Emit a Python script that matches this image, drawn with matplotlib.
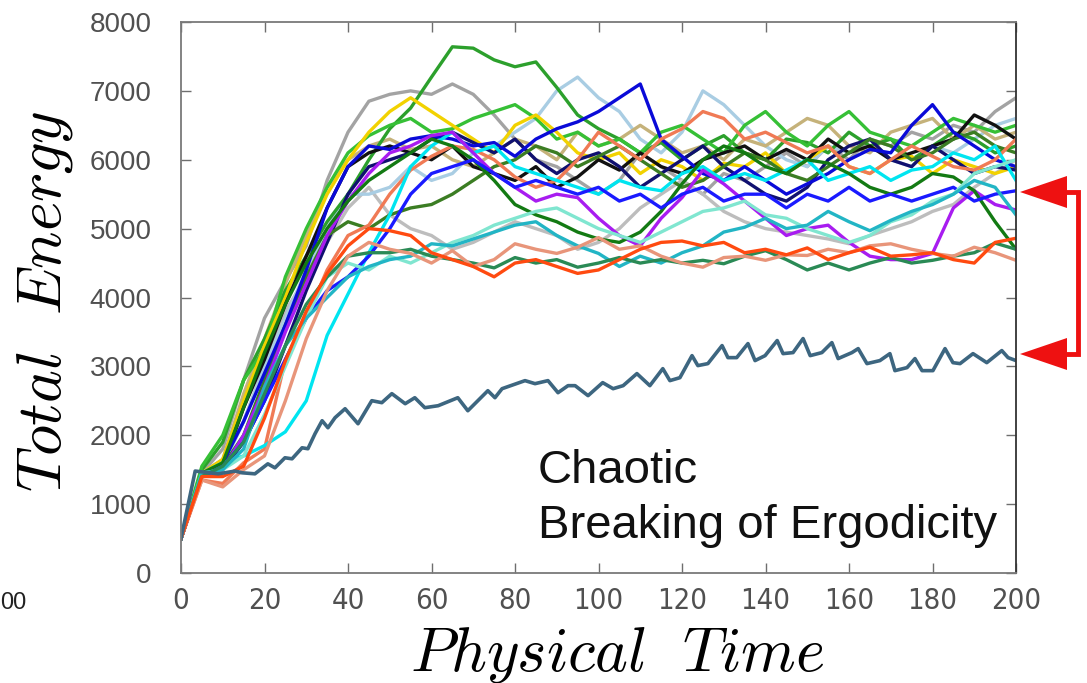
import matplotlib
matplotlib.use('Agg')
import matplotlib.pyplot as plt
from matplotlib.patches import Polygon
from matplotlib.lines import Line2D
from matplotlib import font_manager

plt.rcParams['mathtext.fontset'] = 'cm'

# ---------------- data ----------------
time5 = [0, 5, 10, 15, 20, 25, 30, 35, 40, 45, 50, 55, 60, 65, 70, 75, 80, 85, 90, 95, 100,
         105, 110, 115, 120, 125, 130, 135, 140, 145, 150, 155, 160, 165, 170, 175, 180, 185,
         190, 195, 200]

e_gray = [500, 1450, 1800, 2800, 3700, 4250, 4750, 5700, 6400, 6850, 6950, 7000, 6950, 7100, 6950,
          6650, 6300, 6000, 5900, 5700, 5500, 5700, 6100, 5900, 5700, 5500, 5800, 5700, 5900, 6100,
          5900, 6200, 6000, 6300, 6200, 6400, 6300, 6500, 6400, 6700, 6900]
e_green_peak = [500, 1500, 1900, 2800, 3400, 4100, 4600, 5100, 5500, 6000, 6450, 6750, 7200, 7640,
                7620, 7450, 7350, 7420, 7050, 6650, 6450, 6300, 6100, 6250, 6000, 6200, 6350, 6100,
                6000, 6300, 6250, 6100, 6400, 6200, 6300, 6000, 6200, 6400, 6300, 6100, 6200]
e_blue = [500, 1400, 1600, 2200, 2900, 3600, 4400, 5300, 5900, 6200, 6150, 6300, 6350, 6300, 6200,
          6250, 6050, 6300, 6450, 6550, 6700, 6900, 7100, 6300, 6050, 5800, 5700, 5900, 5700, 5500,
          5650, 5800, 6000, 6150, 6100, 6500, 6800, 6400, 6200, 6000, 5900]
e_blue_low = [500, 1400, 1550, 1900, 2500, 3100, 3700, 4100, 4300, 4600, 5000, 5500, 5800, 5900,
              6000, 5800, 5600, 5700, 5600, 5500, 5600, 5400, 5500, 5300, 5500, 5600, 5400, 5500,
              5500, 5300, 5500, 5400, 5600, 5400, 5500, 5400, 5500, 5600, 5400, 5500, 5550]
e_navy = [500, 1400, 1500, 1900, 2500, 3300, 4100, 4800, 5500, 5900, 6000, 6100, 6300, 6400, 6250,
          6100, 6300, 6000, 5800, 6000, 6100, 5900, 5600, 5800, 6000, 6200, 5900, 5700, 5500, 5400,
          5600, 6000, 6200, 6300, 6000, 5900, 6200, 6000, 5800, 5900, 5850]
e_black = [500, 1400, 1550, 2400, 3100, 3900, 4600, 5300, 5900, 6100, 6200, 6100, 6000, 6200, 5900,
           5800, 5700, 5900, 5600, 5750, 6000, 5850, 6100, 5900, 5800, 6000, 6100, 6200, 6000, 6150,
           6000, 6300, 6100, 6200, 6000, 6100, 6200, 6300, 6650, 6500, 6300]
e_gold = [500, 1450, 1650, 2500, 3300, 4000, 4800, 5500, 6000, 6400, 6700, 6900, 6700, 6500, 6300,
          6100, 6500, 6650, 6400, 6100, 6000, 6100, 5800, 6000, 5900, 5700, 5950, 5900, 6100, 5800,
          6000, 6200, 5900, 5800, 6000, 6050, 5800, 6000, 5900, 5800, 5900]
e_cyan = [500, 1450, 1600, 1700, 1850, 2050, 2500, 3450, 4050, 4650, 5200, 5900, 6200, 6400, 6100,
          6200, 5900, 5800, 5700, 5600, 5500, 5700, 5600, 5550, 5800, 5900, 5700, 5800, 5700, 5850,
          6000, 5700, 5800, 5900, 5700, 5850, 5900, 6100, 6000, 6200, 5700]
e_orangered = [500, 1400, 1400, 1550, 2250, 3080, 3800, 4350, 4750, 5000, 4970, 4900, 4650, 4550,
               4450, 4300, 4500, 4550, 4450, 4350, 4400, 4550, 4700, 4800, 4820, 4750, 4800, 4650,
               4700, 4620, 4720, 4550, 4650, 4730, 4600, 4620, 4650, 4550, 4500, 4800, 4860]
e_salmon = [500, 1350, 1250, 1500, 1700, 2500, 3400, 4100, 4600, 4800, 4700, 4640, 4500, 4680, 4450,
            4550, 4780, 4700, 4640, 4730, 4870, 4700, 4750, 4600, 4500, 4440, 4580, 4600, 4540,
            4620, 4610, 4700, 4650, 4750, 4780, 4700, 4640, 4600, 4730, 4650, 4540]
e_coral = [500, 1350, 1300, 1600, 1800, 3100, 3700, 4400, 4900, 5050, 5500, 5850, 6050, 6200, 6150,
           6000, 5750, 5600, 5700, 6000, 6400, 6200, 6000, 6300, 6450, 6700, 6600, 6300, 6400, 6250,
           6100, 6200, 5900, 5800, 6000, 6200, 6050, 5900, 5850, 6000, 6300]
e_turquoise = [500, 1450, 1500, 1800, 2700, 3300, 3700, 4000, 4300, 4450, 4550, 4600, 4780, 4750,
               4850, 4950, 5050, 5100, 4900, 4750, 4640, 4450, 4600, 4500, 4650, 4750, 4950, 5020,
               5150, 5000, 5050, 5250, 5100, 4970, 5120, 5250, 5350, 5500, 5700, 5600, 5200]
e_aquamarine = [500, 1450, 1500, 1700, 2300, 3000, 3700, 4300, 4500, 4400, 4600, 4500, 4650, 4800,
                4900, 5050, 5150, 5250, 5300, 5150, 5000, 4900, 4800, 4950, 5100, 5250, 5300, 5400,
                5200, 5150, 5000, 4900, 4800, 4900, 5100, 5200, 5400, 5500, 5800, 5900, 6000]
e_purple = [500, 1400, 1500, 2000, 2700, 3500, 4200, 4900, 5400, 5800, 6100, 6200, 6350, 6400, 6100,
            5800, 5600, 5400, 5500, 5450, 5150, 4900, 4750, 5150, 5450, 5850, 5650, 5400, 5150,
            4900, 5000, 5050, 4800, 4600, 4550, 4550, 4640, 5300, 5550, 5350, 5270]
e_darkgreen = [500, 1450, 1600, 2400, 3200, 3900, 4500, 5000, 5400, 5700, 5900, 6100, 6300, 6200,
               6000, 5700, 5350, 5200, 5100, 4950, 4850, 4800, 4950, 5250, 5650, 6000, 6200, 6100,
               5900, 5800, 6000, 5950, 5800, 5600, 5500, 5600, 5800, 5750, 5550, 5100, 4700]
e_olive = [500, 1450, 1550, 2000, 2800, 3600, 4300, 4900, 5100, 5000, 5200, 5300, 5350, 5500, 5700,
           5900, 6000, 6200, 6100, 5900, 6050, 6200, 6000, 5800, 5600, 5700, 5900, 6100, 6000, 5800,
           5700, 5900, 6100, 6300, 6200, 6000, 6100, 6300, 6400, 6200, 6100]
e_seagreen = [500, 1400, 1550, 1900, 2600, 3300, 3900, 4300, 4600, 4650, 4650, 4700, 4600, 4550,
              4500, 4430, 4580, 4500, 4550, 4440, 4500, 4580, 4500, 4550, 4500, 4540, 4490, 4600,
              4680, 4550, 4400, 4500, 4400, 4500, 4580, 4500, 4540, 4600, 4650, 4790, 4700]
e_lightblue = [500, 1400, 1550, 2200, 3000, 3700, 4400, 5000, 5500, 5500, 5600, 5900, 5700, 5800,
               6100, 6200, 6400, 6600, 7000, 7200, 6900, 6700, 6300, 6100, 6400, 7000, 6800, 6500,
               6200, 6000, 5900, 6200, 6100, 6300, 6000, 5900, 6200, 6100, 6300, 6500, 6600]
e_tan = [500, 1450, 1650, 2600, 3400, 4200, 4900, 5600, 6000, 6200, 6300, 6150, 6200, 6000, 5900,
         6100, 6300, 6200, 6000, 6400, 6200, 6300, 6500, 6300, 6100, 6200, 6000, 6300, 6200, 6400,
         6600, 6500, 6200, 6100, 6400, 6500, 6600, 6300, 6500, 6300, 6400]
e_lime = [500, 1550, 2000, 2800, 3250, 4300, 5000, 5600, 6100, 6350, 6500, 6600, 6400, 6450, 6600,
          6700, 6800, 6600, 6300, 6400, 6200, 6300, 6100, 6400, 6500, 6300, 6100, 6500, 6700, 6400,
          6200, 6500, 6700, 6400, 6300, 6200, 6400, 6600, 6500, 6400, 6500]
e_lightgray = [500, 1450, 1600, 2200, 3000, 3800, 4300, 4800, 5300, 5600, 5200, 5000, 4900, 4700,
               4800, 4950, 5100, 5000, 4900, 4700, 4800, 5000, 5300, 5500, 5700, 5500, 5250, 5100,
               5000, 4950, 4900, 4850, 4780, 4900, 5000, 5100, 5250, 5350, 5600, 5800, 6000]

# isolated low series (non-ergodic run), finer sampling
slate_t = [0, 3.4, 8.9, 13, 14.6, 17.7, 20.8, 22.5, 24.9, 26.6, 29, 30.4, 32.1, 33.8, 35.2, 36.9,
           39.3, 42.4, 45.7, 48.1, 50.5, 53.7, 56, 58.4, 61.6, 66.3, 68.7, 73.5, 75.2, 76.9, 82.4,
           84.8, 87.9, 90.3, 92.7, 94.4, 97.5, 101, 103.5, 105.9, 109.2, 112.3, 115.4, 117.1, 119.5,
           122.4, 123.8, 126.2, 129.6, 131, 133.1, 135.8, 137.5, 139.9, 142.8, 144.2, 146.6, 149,
           150.7, 153.5, 155.9, 157.4, 160.7, 162.2, 164.3, 167.4, 169.8, 171, 173.9, 175.8, 177.5,
           180.1, 183, 184.9, 186.6, 189.7, 193, 196.6, 198.1, 200]
slate_e = [500, 1480, 1440, 1480, 1455, 1440, 1585, 1527, 1673, 1658, 1818, 1804, 2022, 2211, 2109,
           2255, 2385, 2167, 2502, 2473, 2604, 2458, 2545, 2400, 2429, 2545, 2356, 2647, 2545, 2676,
           2793, 2749, 2793, 2618, 2720, 2720, 2575, 2764, 2676, 2720, 2895, 2720, 2967, 2793, 2836,
           3156, 3011, 3040, 3302, 3127, 3127, 3331, 3084, 3156, 3375, 3185, 3200, 3404, 3156, 3200,
           3345, 3113, 3200, 3258, 3040, 3084, 3185, 2938, 2982, 3113, 2938, 2938, 3258, 3054, 3040,
           3185, 3054, 3229, 3127, 3084]

series = [e_gray, e_lightgray, e_lightblue, e_tan, e_green_peak, e_lime, e_gold, e_black, e_navy,
          e_olive, e_blue, e_coral, e_cyan, e_purple, e_darkgreen, e_blue_low, e_aquamarine,
          e_turquoise, e_seagreen, e_salmon, e_orangered]
colors = ['#a3a3a3', '#bdbdbd', '#a9cde3', '#c5b27a', '#2ca02c', '#36c036', '#f2d200', '#111111',
          '#101070', '#3b7d23', '#0a0ad8', '#f07a55', '#00e5f0', '#a81cf0', '#137a13', '#1a1aff',
          '#80e6d0', '#22b5c5', '#2a8a55', '#e8957a', '#ff4a10']

x_ticks = [0, 20, 40, 60, 80, 100, 120, 140, 160, 180, 200]
y_ticks = [0, 1000, 2000, 3000, 4000, 5000, 6000, 7000, 8000]

# ---------------- figure ----------------
W, H = 1087, 683
fig = plt.figure(figsize=(W / 100, H / 100), dpi=100)
ax = fig.add_axes([181 / W, 1 - 573 / H, (1016 - 181) / W, (573 - 22) / H])

for vals, col in zip(series, colors):
    ax.plot(time5, vals, color=col, lw=2.4, solid_joinstyle='round')
ax.plot(slate_t, slate_e, color='#3d6680', lw=2.6)

ax.set_xlim(0, 200)
ax.set_ylim(0, 8000)
ax.set_xticks(x_ticks)
ax.set_yticks(y_ticks)
ax.tick_params(direction='in', length=7, width=1.0, top=True, right=True,
               color='#6e6e6e', labelcolor='#505050')
ax.tick_params(axis='y', pad=21)
ax.tick_params(axis='x', pad=10)
for s in ['left', 'bottom', 'top']:
    ax.spines[s].set_color('#7a7a7a')
    ax.spines[s].set_linewidth(1.3)
ax.spines['right'].set_color('#333333')
ax.spines['right'].set_linewidth(1.3)

names = {f.name for f in font_manager.fontManager.ttflist}
xfam = 'Liberation Sans Narrow' if 'Liberation Sans Narrow' in names else 'DejaVu Sans'
for lbl in ax.get_xticklabels():
    lbl.set_fontfamily(xfam)
    lbl.set_fontstretch('condensed')
    lbl.set_fontsize(21)
for lbl in ax.get_yticklabels():
    lbl.set_fontfamily('Liberation Sans')
    lbl.set_fontsize(20)

def fx(px):
    return px / W

def fy(py):
    return 1 - py / H

fig.text(fx(617), fy(655), r'$Physical\ \ Time$', fontsize=45, ha='center', va='center')
fig.text(fx(45), fy(302), r'$Total\ \ Energy$', fontsize=45, ha='center', va='center',
         rotation=90)

fig.text(fx(538), fy(483), 'Chaotic', fontsize=34, family='Liberation Sans',
         ha='left', va='baseline', color='#111111')
fig.text(fx(538), fy(538), 'Breaking of Ergodicity', fontsize=34, family='Liberation Sans',
         ha='left', va='baseline', color='#111111')

fig.text(fx(0), fy(603), '00', fontsize=17, family='Liberation Sans', ha='left',
         va='center', color='#222222')

red = '#ee1111'
fig.add_artist(Line2D([fx(1060), fx(1078), fx(1078), fx(1060)],
                      [fy(192), fy(192), fy(354), fy(354)],
                      transform=fig.transFigure, color=red, lw=3.5, solid_joinstyle='miter'))
for ty in (192, 354):
    fig.add_artist(Polygon([(fx(1020), fy(ty)), (fx(1067), fy(ty - 16)), (fx(1067), fy(ty + 16))],
                           closed=True, transform=fig.transFigure, color=red, lw=0))

fig.savefig('out.png', dpi=100)
